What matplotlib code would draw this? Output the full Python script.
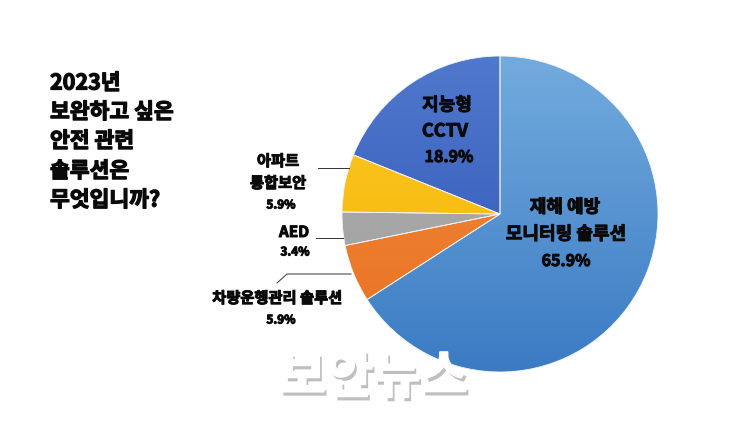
import matplotlib
matplotlib.use("Agg")
import matplotlib.pyplot as plt
import numpy as np
from matplotlib.colors import LinearSegmentedColormap
from matplotlib.lines import Line2D
import matplotlib.patheffects as pe

plt.rcParams['font.family'] = ['Noto Sans CJK KR', 'DejaVu Sans']

# ---- data ----
categories = ['지능형 CCTV', '아파트 통합보안', 'AED', '차량운행관리 솔루션', '재해 예방 모니터링 솔루션']
values = [18.9, 5.9, 3.4, 5.9, 65.9]
pct_labels = ['18.9%', '5.9%', '3.4%', '5.9%', '65.9%']
title_lines = ['2023년', '보완하고 싶은', '안전 관련', '솔루션은', '무엇입니까?']
# gradient colours (top, bottom) per slice
grad_colors = [('#5078cc', '#2c54b6'),
               ('#ffc82a', '#f0b400'),
               ('#b0b0b0', '#9e9e9e'),
               ('#f38c40', '#e8701f'),
               ('#73abde', '#3b7bc3')]

W, H = 750, 421
fig = plt.figure(figsize=(W / 100, H / 100), dpi=100)
fig.patch.set_facecolor('white')


def P(x, y):
    return (x / W, 1 - y / H)


TXT = '#0a0a0a'
thick = [pe.withStroke(linewidth=0.7, foreground=TXT)]

# pie axes: centre (500,214) px, radius 158 px
cx, cy, r = 500, 214, 158
ax = fig.add_axes([(cx - r) / W, (H - cy - r) / H, 2 * r / W, 2 * r / H])
wedges, _ = ax.pie(values, startangle=90, counterclock=True, radius=1,
                   wedgeprops=dict(edgecolor='#f4f4f4', linewidth=0.6))
grad = np.linspace(1, 0, 256).reshape(-1, 1)
for w, (c_top, c_bot) in zip(wedges, grad_colors):
    cm = LinearSegmentedColormap.from_list('g', [c_bot, c_top])
    im = ax.imshow(grad, extent=[-1, 1, -1, 1], cmap=cm, aspect='auto', zorder=2,
                   interpolation='bilinear')
    im.set_clip_path(w)
    w.set_facecolor('none')
    w.set_zorder(3)
ax.set_xlim(-1, 1)
ax.set_ylim(-1, 1)
ax.set_aspect('equal')
ax.axis('off')

# ---- watermark ----
fig.text(*P(373, 377), '보안뉴스', ha='center', va='center', fontsize=37,
         fontweight='bold', color='white', zorder=10,
         path_effects=[pe.withSimplePatchShadow(offset=(2, -3), shadow_rgbFace='#808080', alpha=0.5),
                       pe.withStroke(linewidth=1.5, foreground='white')])

# ---- title ----
for i, (s, y) in enumerate(zip(title_lines, [83, 112, 141, 171, 200])):
    fig.text(*P(50, y), s, ha='left', va='center', fontsize=15.5, fontweight='bold',
             color=TXT, path_effects=[pe.withStroke(linewidth=0.9, foreground=TXT)])

# ---- inside labels ----
lab_kw = dict(ha='center', va='center', fontweight='bold', color=TXT, zorder=5,
              path_effects=thick)
fig.text(*P(447, 105), '지능형', fontsize=13, **lab_kw)
fig.text(*P(445, 131), 'CCTV', fontsize=13, **lab_kw)
fig.text(*P(449, 157), pct_labels[0], fontsize=11.5, **lab_kw)

fig.text(*P(565, 207), '재해 예방', fontsize=13, **lab_kw)
fig.text(*P(566, 234), '모니터링 솔루션', fontsize=13, **lab_kw)
fig.text(*P(566, 261), pct_labels[4], fontsize=11.5, **lab_kw)

# ---- outside labels ----
fig.text(*P(278, 161), '아파트', fontsize=11, **lab_kw)
fig.text(*P(278, 183), '통합보안', fontsize=11, **lab_kw)
fig.text(*P(281, 205), pct_labels[1], fontsize=8.5, **lab_kw)

fig.text(*P(294, 232), 'AED', fontsize=11, **lab_kw)
fig.text(*P(295, 252), pct_labels[2], fontsize=8.5, **lab_kw)

fig.text(*P(277, 298), '차량운행관리 솔루션', fontsize=11, **lab_kw)
fig.text(*P(281, 320), pct_labels[3], fontsize=8.5, **lab_kw)

# ---- leader lines ----
def leader(xs, ys):
    pts = [P(x, y) for x, y in zip(xs, ys)]
    fig.add_artist(Line2D([p[0] for p in pts], [p[1] for p in pts],
                          color='#333333', linewidth=0.7, transform=fig.transFigure))

leader([318, 349], [168, 168])
leader([316, 343], [238, 238])
leader([277, 287, 351], [283, 274, 274])

fig.savefig('out.png', dpi=100, facecolor='white')
